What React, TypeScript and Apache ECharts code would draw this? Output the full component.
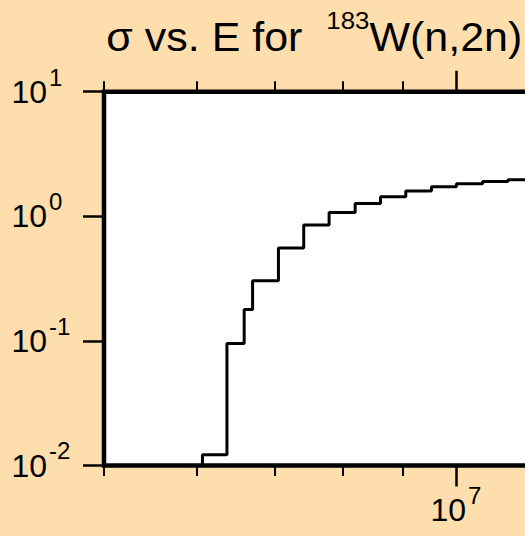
import React, { useEffect, useRef } from 'react';
import * as echarts from 'echarts';

// Histogram bin edges (MeV) and cross sections (barn)
const binEdgesMeV = [6.07, 6.37, 6.59, 6.7, 7.05, 7.41, 7.79, 8.2, 8.62, 9.06, 9.53, 10.01, 10.54, 11.08, 11.65];
const sigmaBarn = [0.0122, 0.0955, 0.179, 0.304, 0.557, 0.853, 1.075, 1.265, 1.436, 1.595, 1.726, 1.825, 1.905, 1.963];

// Tick positions (eV and barn)
const xMinorTicksEV = [5e6, 6e6, 7e6, 8e6, 9e6, 2e7];
const xMajorTicksEV = [1e7];
const yDecadeTicks = [0.01, 0.1, 1, 10];

const titleMain = 'σ vs. E for  ';
const titleIsotope = '183';
const titleReaction = 'W(n,2n)';

const X_MIN = 5e6;
const X_MAX = 2e7;
const Y_MIN = 0.01;
const Y_MAX = 10;

const FONT = '"Liberation Sans", Arial, Helvetica, sans-serif';
const BG = '#FFDEAD';

export default function App() {
  const ref = useRef<HTMLDivElement>(null);

  useEffect(() => {
    document.body.style.margin = '0';
    const chart = echarts.init(ref.current!, null, { renderer: 'svg' });

    const pts: [number, number][] = [[binEdgesMeV[0] * 1e6, Y_MIN]];
    sigmaBarn.forEach((v, i) => {
      pts.push([binEdgesMeV[i] * 1e6, v]);
      pts.push([binEdgesMeV[i + 1] * 1e6, v]);
    });

    const expLabel = (v: number) => `{b|10}{s|${Math.round(Math.log10(v))}}`;
    const labelRich = {
      b: { fontSize: 32, fontFamily: FONT, color: '#000' },
      s: { fontSize: 24, fontFamily: FONT, color: '#000', padding: [0, 0, 29.4, 2] },
    };

    const xBase = (position: 'top' | 'bottom', ticks: number[], len: number, width: number, label: boolean) => ({
      type: 'log',
      logBase: 10,
      min: X_MIN,
      max: X_MAX,
      gridIndex: 0,
      position,
      axisLine: { show: false },
      splitLine: { show: false },
      minorTick: { show: false },
      axisTick: { show: true, customValues: ticks, length: len, lineStyle: { color: '#000', width } },
      axisLabel: label
        ? { show: true, customValues: ticks, formatter: expLabel, rich: labelRich, margin: 18 }
        : { show: false },
    });

    chart.setOption({
      animation: false,
      backgroundColor: BG,
      grid: {
        left: 104,
        top: 91.7,
        width: 703.8,
        height: 373.8,
        show: true,
        backgroundColor: '#fff',
        borderColor: '#000',
        borderWidth: 4.5,
      },
      xAxis: [
        xBase('bottom', xMinorTicksEV, 10.5, 2, false),
        xBase('bottom', xMajorTicksEV, 21, 2.5, true),
        xBase('top', xMinorTicksEV, 10.5, 2, false),
        xBase('top', xMajorTicksEV, 21, 2.5, false),
      ],
      yAxis: {
        type: 'log',
        logBase: 10,
        min: Y_MIN,
        max: Y_MAX,
        axisLine: { show: false },
        splitLine: { show: false },
        minorTick: { show: false },
        axisTick: { show: true, customValues: yDecadeTicks, length: 21, lineStyle: { color: '#000', width: 2.5 } },
        axisLabel: {
          show: true,
          customValues: yDecadeTicks,
          formatter: expLabel,
          rich: labelRich,
          align: 'left',
          margin: 92.5,
        },
      },
      graphic: [
        {
          type: 'text',
          x: 106.3,
          y: 8.6,
          scaleX: 1.075,
          style: {
            text: `{m|${titleMain}}{s|${titleIsotope}}{m|${titleReaction}}`,
            align: 'left',
            verticalAlign: 'top',
            fill: '#000',
            rich: {
              m: { fontSize: 40, fontFamily: FONT, fill: '#000' },
              s: { fontSize: 24, fontFamily: FONT, fill: '#000', padding: [0, 0, 32.8, 0] },
            },
          },
        },
      ],
      series: [
        {
          type: 'line',
          data: pts,
          xAxisIndex: 0,
          yAxisIndex: 0,
          symbol: 'none',
          showSymbol: false,
          clip: true,
          lineStyle: { color: '#000', width: 3 },
        },
      ],
    });

    return () => chart.dispose();
  }, []);

  return (
    <div style={{ position: 'absolute', left: 0, top: 0, width: 525, height: 536, overflow: 'hidden', background: BG }}>
      <div ref={ref} style={{ width: 1000, height: 536 }} />
    </div>
  );
}
